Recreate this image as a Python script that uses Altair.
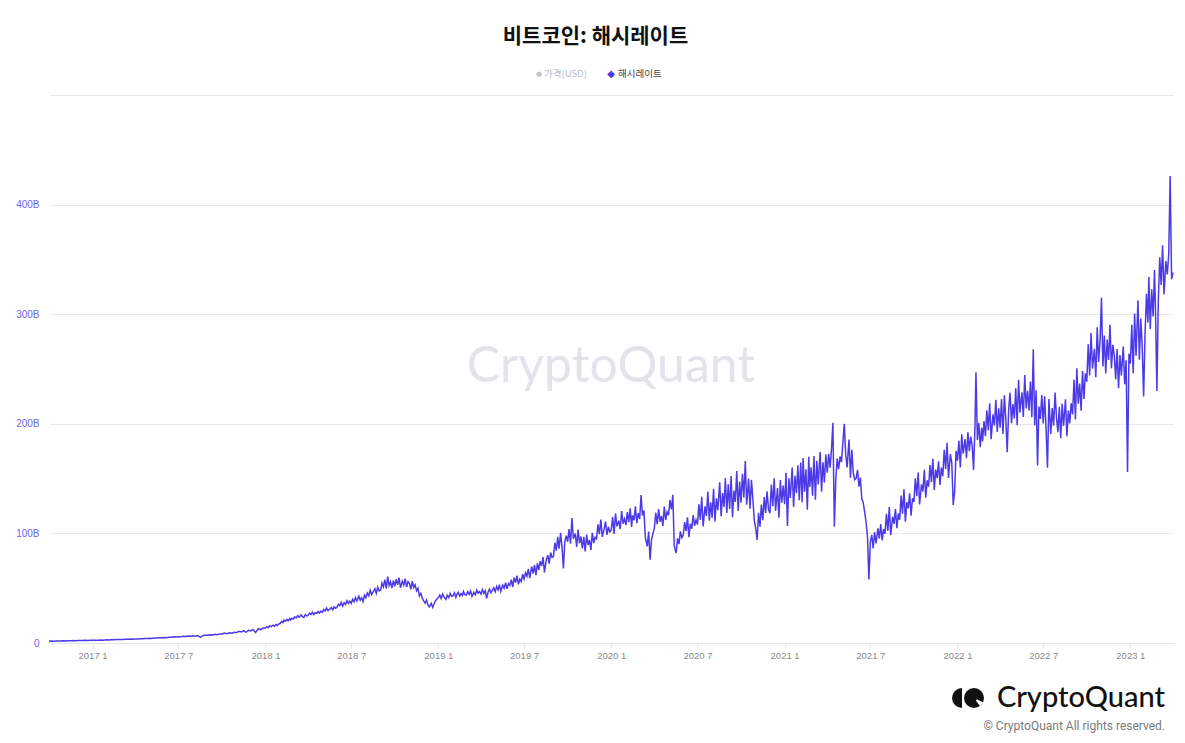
import altair as alt
import pandas as pd

# ---- data: hash rate (B); one sub-list per month, values spread evenly over the month ----
hr_2016 = [  # Oct..Dec
    [1.7, 1.8, 1.7, 1.9, 1.8, 1.9],
    [2.0, 1.9, 2.1, 2.0, 2.2, 2.1],
    [2.2, 2.3, 2.2, 2.4, 2.3, 2.4],
]
hr_2017 = [
    [2.5, 2.6, 2.4, 2.7, 2.6, 2.8],
    [2.9, 2.8, 3.1, 3.0, 3.2, 3.1],
    [3.3, 3.2, 3.5, 3.4, 3.6, 3.5],
    [3.7, 3.6, 3.9, 3.8, 4.1, 4.0],
    [4.3, 4.2, 4.6, 4.5, 4.8, 4.7],
    [5.0, 4.9, 5.3, 5.2, 5.6, 5.4],
    [5.8, 5.6, 6.1, 5.9, 6.3, 6.1],
    [6.5, 6.2, 6.8, 5.2, 6.9, 7.1],
    [7.0, 7.6, 7.2, 8.0, 7.6, 8.3],
    [8.2, 9.0, 8.5, 9.4, 8.9, 9.8],
    [9.5, 10.6, 10.0, 11.2, 9.8, 11.6],
    [11.0, 12.4, 9.5, 13.0, 12.2, 13.6],
]
hr_2018 = [
    [13.6, 14.8, 14.1, 15.6, 14.9, 16.2, 15.3, 16.8, 16.0, 17.4],
    [17.8, 19.5, 18.6, 20.8, 19.9, 21.5, 20.2, 22.3, 21.0, 22.6],
    [21.9, 23.8, 22.8, 24.9, 23.6, 25.6, 24.1, 23.3, 25.9, 24.8],
    [25.2, 27.3, 26.0, 28.1, 25.8, 27.6, 26.9, 28.8, 27.2, 29.1],
    [28.0, 30.6, 29.2, 31.8, 29.5, 30.9, 32.4, 30.2, 33.0, 31.6],
    [32.8, 35.4, 34.0, 37.2, 33.6, 36.8, 35.2, 38.6, 36.1, 38.2],
    [36.2, 39.8, 37.6, 41.5, 38.4, 42.8, 39.0, 41.2, 37.8, 43.6],
    [41.2, 45.6, 43.0, 48.2, 44.1, 47.0, 49.5, 45.2, 50.8, 47.6],
    [48.0, 54.6, 51.2, 57.8, 49.6, 60.5, 52.4, 55.8, 50.2, 57.0],
    [51.8, 58.2, 53.0, 59.6, 50.4, 56.4, 52.8, 58.8, 51.0, 56.0],
    [54.2, 49.0, 56.5, 50.6, 53.2, 47.5, 50.0, 43.0, 45.2, 41.0],
    [38.5, 36.4, 39.2, 34.8, 33.0, 36.2, 32.5, 35.8, 38.4, 40.2],
]
hr_2019 = [
    [41.2, 43.8, 40.5, 44.6, 42.0, 39.8, 43.5, 41.4, 45.2, 42.6],
    [43.0, 45.8, 41.6, 44.2, 46.4, 42.8, 45.0, 43.4, 47.0, 44.2],
    [43.8, 46.8, 44.5, 47.5, 42.6, 46.2, 44.0, 48.2, 45.5, 47.0],
    [44.6, 48.8, 45.2, 47.6, 40.8, 46.5, 49.2, 45.8, 48.0, 50.4],
    [46.8, 51.5, 48.4, 53.2, 47.2, 52.6, 50.0, 55.0, 49.4, 54.2],
    [52.6, 57.8, 51.0, 59.6, 55.2, 61.4, 53.6, 58.2, 56.0, 62.8],
    [58.4, 64.2, 61.0, 67.6, 59.2, 69.8, 63.4, 71.0, 62.0, 72.6],
    [66.8, 74.6, 70.2, 78.4, 64.5, 76.0, 80.2, 72.4, 82.6, 78.0],
    [79.0, 91.5, 84.2, 96.8, 86.0, 100.5, 88.4, 68.0, 92.6, 98.0],
    [92.4, 104.0, 90.6, 114.0, 95.2, 99.8, 87.6, 103.4, 91.0, 97.2],
    [86.2, 96.8, 83.6, 99.0, 89.4, 94.0, 84.8, 100.6, 91.2, 96.4],
    [95.0, 108.2, 99.4, 112.6, 96.8, 104.2, 110.8, 98.6, 106.0, 101.4],
]
hr_2020 = [
    [103.0, 114.8, 99.6, 118.2, 106.4, 111.6, 104.0, 120.4, 108.8, 113.2],
    [107.6, 119.4, 110.2, 122.8, 106.0, 116.4, 112.0, 124.6, 109.4, 118.6],
    [113.0, 135.0, 116.4, 121.0, 96.4, 88.2, 101.6, 76.0, 94.2, 99.8],
    [104.6, 118.8, 108.4, 122.2, 110.6, 116.0, 106.8, 124.4, 112.2, 119.6],
    [116.6, 130.4, 121.8, 135.2, 88.6, 82.0, 95.4, 90.2, 101.8, 96.0],
    [98.2, 110.4, 102.0, 114.6, 96.6, 108.8, 104.2, 116.8, 107.0, 112.4],
    [108.0, 126.6, 112.2, 133.4, 106.4, 124.6, 116.0, 138.2, 111.6, 128.4],
    [114.4, 140.6, 110.8, 132.0, 121.2, 146.6, 115.6, 136.8, 124.2, 150.4],
    [118.6, 144.8, 122.2, 152.4, 114.8, 139.0, 128.6, 156.8, 120.4, 147.2],
    [128.0, 154.4, 132.6, 166.0, 126.2, 150.0, 122.6, 148.8, 131.4, 112.0],
    [104.6, 94.0, 118.8, 106.2, 126.4, 112.0, 133.2, 118.6, 138.4, 122.0],
    [118.4, 144.6, 124.8, 150.2, 120.6, 141.4, 114.2, 148.8, 128.0, 143.6],
]
hr_2021 = [
    [126.6, 155.4, 106.8, 150.2, 132.4, 160.0, 124.2, 152.6, 136.8, 162.2],
    [130.2, 164.6, 128.4, 168.8, 138.0, 158.4, 121.6, 170.0, 142.4, 160.2],
    [134.4, 170.6, 130.8, 166.2, 144.6, 174.2, 138.0, 164.8, 146.4, 172.0],
    [155.4, 172.6, 160.0, 176.8, 201.0, 106.0, 148.2, 168.4, 158.6, 170.2],
    [165.0, 182.4, 200.0, 172.0, 160.2, 185.6, 150.8, 176.4, 155.0, 149.0],
    [150.2, 158.0, 142.6, 150.8, 131.6, 128.0, 119.4, 110.2, 97.0, 58.0],
    [92.0, 98.6, 86.4, 101.2, 90.8, 104.6, 95.2, 108.4, 93.6, 104.0],
    [99.6, 117.8, 102.4, 124.0, 98.4, 115.2, 108.6, 122.4, 104.8, 118.2],
    [112.4, 134.6, 118.0, 140.2, 110.6, 128.4, 122.8, 136.6, 116.2, 132.0],
    [128.6, 150.2, 134.0, 155.6, 126.4, 144.8, 138.2, 158.0, 132.6, 148.4],
    [142.6, 162.4, 146.8, 168.0, 139.6, 158.2, 150.4, 165.8, 144.2, 160.0],
    [152.2, 176.4, 158.8, 182.6, 150.6, 172.4, 164.0, 126.0, 138.0, 175.2],
]
hr_2022 = [
    [166.4, 184.6, 160.2, 190.4, 172.8, 186.0, 168.6, 192.2, 175.0, 188.4],
    [180.4, 158.0, 198.6, 247.0, 185.2, 200.8, 178.6, 196.4, 184.0, 202.6],
    [188.6, 212.4, 194.2, 218.8, 186.0, 208.6, 198.4, 222.0, 192.6, 214.2],
    [196.4, 222.6, 190.8, 226.0, 204.2, 174.0, 212.8, 228.4, 200.6, 218.0],
    [204.8, 232.4, 198.6, 240.2, 210.4, 228.8, 206.2, 244.6, 214.0, 230.2],
    [212.2, 238.6, 206.0, 268.0, 198.4, 230.6, 162.0, 215.8, 204.4, 226.2],
    [200.4, 225.2, 196.0, 160.0, 222.6, 190.8, 214.4, 198.2, 228.6, 206.0],
    [192.4, 215.6, 186.8, 218.2, 198.0, 222.4, 188.6, 212.0, 200.4, 218.8],
    [208.6, 240.2, 204.0, 250.6, 218.4, 236.8, 212.0, 248.2, 222.6, 246.0],
    [238.4, 272.6, 244.0, 282.8, 250.2, 268.4, 242.6, 288.0, 256.4, 276.0],
    [315.0, 252.4, 280.6, 246.0, 276.8, 258.2, 290.4, 250.6, 272.0, 262.4],
    [240.6, 268.2, 232.4, 262.8, 244.0, 270.6, 236.2, 258.0, 156.0, 264.0],
]
hr_2023 = [
    [255.0, 290.4, 246.2, 300.6, 262.0, 312.8, 258.4, 296.0, 270.2, 225.0],
    [282.0, 318.6, 292.4, 334.0, 286.6, 322.8, 298.0, 340.2, 304.6, 230.0],
    [312.4, 352.0, 326.6, 362.8, 318.0, 348.4, 336.2, 355.0, 426.0, 332.0],
    [338.0],
]

# (year, first month, monthly lists)
blocks = [
    (2016, 10, hr_2016), (2017, 1, hr_2017), (2018, 1, hr_2018),
    (2019, 1, hr_2019), (2020, 1, hr_2020), (2021, 1, hr_2021),
    (2022, 1, hr_2022), (2023, 1, hr_2023),
]

rows = []
for year, m0, months in blocks:
    for i, vals in enumerate(months):
        start = pd.Timestamp(year=year, month=m0 + i, day=1)
        ndays = start.days_in_month
        for j, v in enumerate(vals):
            d = start + pd.Timedelta(days=round(j * ndays / len(vals)))
            rows.append({"date": d.strftime("%Y-%m-%d"), "hashrate": v})
df = pd.DataFrame(rows)

def ms(s):
    return int(pd.Timestamp(s, tz="UTC").value // 10**6)

x_ticks = [ms(f"{y}-{m:02d}-01") for y in range(2017, 2024) for m in (1, 7) if not (y == 2023 and m == 7)]
x_domain = [ms("2016-10-01"), ms("2023-04-01")]

LINE = "#4b3ae6"
W, H = 1124, 548

x_enc = alt.X(
    "date:T",
    scale=alt.Scale(type="utc", domain=x_domain),
    axis=alt.Axis(
        values=x_ticks,
        labelExpr="utcyear(datum.value) + ' ' + (utcmonth(datum.value) + 1)",
        title=None, grid=False, domainColor="#e3e3ea", tickColor="#e3e3ea",
        tickSize=5, labelPadding=2, labelFontSize=9.5, labelColor="#8a8a8a",
        labelFont="Liberation Sans",
    ),
)
y_enc = alt.Y(
    "hashrate:Q",
    scale=alt.Scale(domain=[0, 500], nice=False),
    axis=alt.Axis(
        values=[0, 100, 200, 300, 400, 500],
        labelExpr="datum.value >= 500 ? '' : (datum.value == 0 ? '0' : datum.value + 'B')",
        title=None, domain=False, ticks=False, gridColor="#e8e8ee", gridWidth=1,
        labelPadding=10, labelFontSize=10, labelColor="#6f62f2",
        labelFont="Liberation Sans",
    ),
)

line = alt.Chart(df).mark_line(color=LINE, strokeWidth=1.5).encode(x=x_enc, y=y_enc)

one = alt.Data(values=[{"a": 1}])

def txt(text, x, y, size, color, font, weight="normal", align="center"):
    return alt.Chart(one).mark_text(
        text=text, fontSize=size, color=color, font=font, fontWeight=weight,
        align=align, baseline="middle",
    ).encode(x=alt.value(x), y=alt.value(y))

# offsets relative to plot origin (49, 95)
title = txt("비트코인: 해시레이트", 546.5, -58, 21, "#111111", "Noto Sans CJK KR", "bold")
leg_dot = txt("●", 490, -21, 7, "#c4c4cc", "DejaVu Sans")
leg_t1 = txt("가격(USD)", 495, -21, 9.5, "#b8b8c6", "Noto Sans CJK KR", align="left")
leg_dia = txt("◆", 562, -21, 10, LINE, "DejaVu Sans")
leg_t2 = txt("해시레이트", 569, -21, 9.5, "#444444", "Noto Sans CJK KR", align="left")
watermark = txt("CryptoQuant", 562, 272, 50, "#e3e3ea", "Lato")
logo_txt = txt("CryptoQuant", 1116, 603, 29, "#111111", "Lato", 500, align="right")
copy_txt = txt("© CryptoQuant All rights reserved.", 1116, 631, 12, "#7a7a7a", "Roboto", align="right")

half = alt.Chart(one).mark_arc(radius=10, theta=3.1416, theta2=6.2832, color="#111111").encode(
    x=alt.value(913), y=alt.value(603))
full = alt.Chart(one).mark_arc(radius=10, theta=0, theta2=6.2832, color="#111111").encode(
    x=alt.value(925), y=alt.value(603))
notch = alt.Chart(one).mark_arc(radius=10, radius2=3, theta=2.0, theta2=2.5, color="#ffffff").encode(
    x=alt.value(925), y=alt.value(603))

chart = alt.layer(
    watermark, line, title, leg_dot, leg_t1, leg_dia, leg_t2,
    logo_txt, copy_txt, half, full, notch,
).properties(
    width=W, height=H,
    autosize=alt.AutoSizeParams(type="none"),
    padding={"left": 49, "top": 95, "right": 12, "bottom": 100},
    background="white",
).configure_view(stroke=None)

chart.save("out.html", embed_options={"renderer": "svg", "actions": False})
